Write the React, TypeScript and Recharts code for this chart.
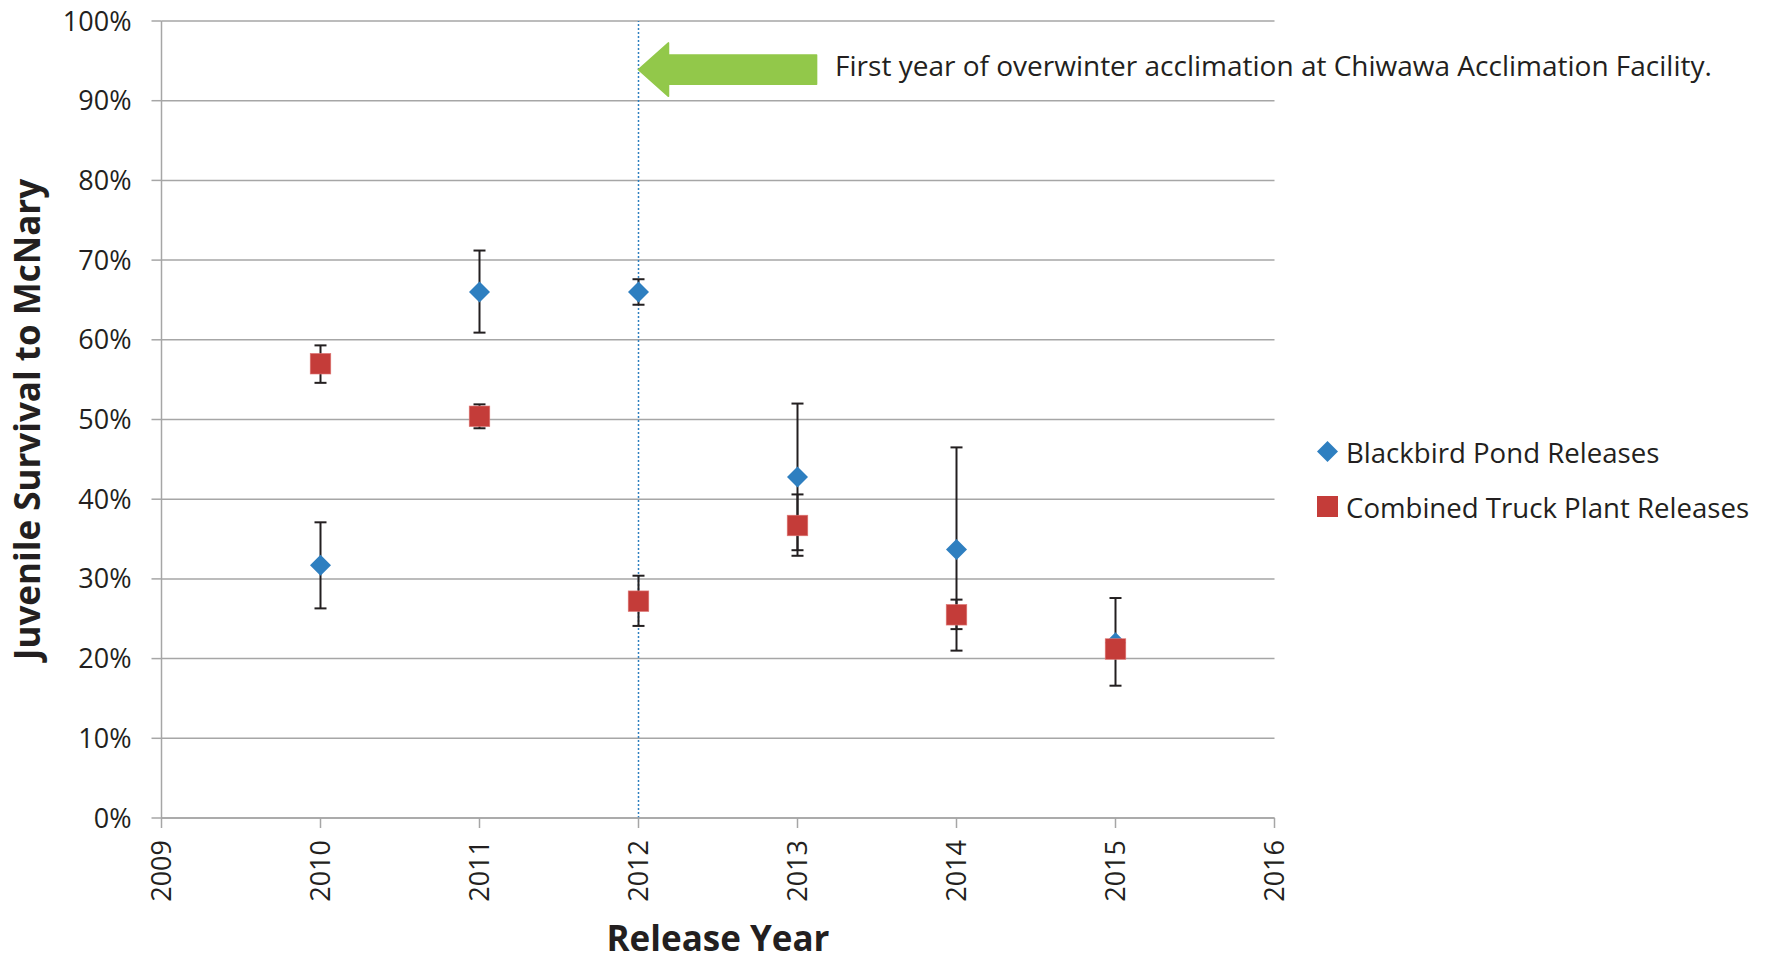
import {
  ScatterChart, Scatter, XAxis, YAxis, CartesianGrid, ErrorBar,
  ReferenceLine, Legend,
} from 'recharts'

const YEARS = [2010, 2011, 2012, 2013, 2014, 2015]

const BLACKBIRD = [31.7, 66.0, 66.0, 42.8, 33.7, 22.0]
const BLACKBIRD_LOW = [26.3, 60.9, 64.4, 33.6, 21.0, 16.6]
const BLACKBIRD_HIGH = [37.1, 71.2, 67.6, 52.0, 46.5, 27.6]

const TRUCK = [57.0, 50.4, 27.2, 36.7, 25.5, 21.2]
const TRUCK_LOW = [54.6, 48.9, 24.1, 32.9, 23.7, 20.6]
const TRUCK_HIGH = [59.3, 51.9, 30.4, 40.6, 27.4, 21.8]

const X_TICKS = [2009, 2010, 2011, 2012, 2013, 2014, 2015, 2016]
const Y_TICKS = [0, 10, 20, 30, 40, 50, 60, 70, 80, 90, 100]

const SERIES_NAMES = ['Blackbird Pond Releases', 'Combined Truck Plant Releases']

// annotation: arrow from the 2012 line, text to its right
const MARKER_YEAR = 2012
const ARROW_Y = 93.9
const ARROW_END = 2013.12
const NOTE = 'First year of overwinter acclimation at Chiwawa Acclimation Facility.'

const FONT = '"Open Sans", sans-serif'
const TEXT = '#231F20'
const GRID = '#A6A6A6'
const BLUE = '#2E7FC0'
const RED = '#C43C39'
const GREEN = '#92C84A'

function rows(vals: number[], low: number[], high: number[]) {
  return YEARS.map((yr, i) => ({
    x: yr,
    y: vals[i],
    err: [vals[i] - low[i], high[i] - vals[i]],
  }))
}

const blackbirdData = rows(BLACKBIRD, BLACKBIRD_LOW, BLACKBIRD_HIGH)
const truckData = rows(TRUCK, TRUCK_LOW, TRUCK_HIGH)

function Diamond({ cx, cy }: { cx?: number; cy?: number }) {
  if (cx == null || cy == null) return null
  const r = 10.5
  return <polygon points={`${cx},${cy - r} ${cx + r},${cy} ${cx},${cy + r} ${cx - r},${cy}`} fill={BLUE} />
}

function Square({ cx, cy }: { cx?: number; cy?: number }) {
  if (cx == null || cy == null) return null
  const r = 10.3
  return <rect x={cx - r} y={cy - r} width={r * 2} height={r * 2} fill={RED} stroke="#E07A78" strokeWidth={0.6} />
}

interface TickProps { x?: number; y?: number; payload?: { value: number } }
function YearTick({ x = 0, y = 0, payload }: TickProps) {
  return (
    <text
      x={x}
      y={y}
      transform={`rotate(-90, ${x}, ${y})`}
      textAnchor="end"
      dy="0.35em"
      fontFamily={FONT}
      fontSize={27}
      fill={TEXT}
    >
      {payload?.value}
    </text>
  )
}

function Arrow(props: any) {
  const { x1, y1, x2 } = props
  const head = 30
  const headH = 26.7
  const shaftH = 14.7
  const pts = [
    [x1, y1],
    [x1 + head, y1 - headH],
    [x1 + head, y1 - shaftH],
    [x2, y1 - shaftH],
    [x2, y1 + shaftH],
    [x1 + head, y1 + shaftH],
    [x1 + head, y1 + headH],
  ].map((p) => p.join(',')).join(' ')
  return (
    <g>
      <polygon points={pts} fill={GREEN} stroke={GREEN} strokeWidth={1.5} strokeLinejoin="round" />
      <text x={x2 + 18.5} y={y1 + 6} fontFamily={FONT} fontSize={28} fill={TEXT}>{NOTE}</text>
    </g>
  )
}

function LegendBox() {
  return (
    <div style={{ fontFamily: FONT, fontSize: 27.6, color: TEXT }}>
      {SERIES_NAMES.map((name, i) => (
        <div key={name} style={{ display: 'flex', alignItems: 'center', height: 55, whiteSpace: 'nowrap' }}>
          <svg width={21} height={21} style={{ marginRight: 8, flex: 'none' }}>
            {i === 0
              ? <polygon points="10.5,0 21,10.5 10.5,21 0,10.5" fill={BLUE} />
              : <rect x={0} y={0} width={21} height={21} fill={RED} />}
          </svg>
          <span>{name}</span>
        </div>
      ))}
    </div>
  )
}

export default function App() {
  return (
    <div>
      <style>{'body { margin: 0; }'}</style>
      <ScatterChart
        width={1769}
        height={963}
        margin={{ top: 21, right: 494.5, bottom: 0, left: 0 }}
      >
        <CartesianGrid horizontal vertical={false} stroke={GRID} strokeWidth={1.5} />
        <XAxis
          type="number"
          dataKey="x"
          domain={[2009, 2016]}
          ticks={X_TICKS}
          interval={0}
          height={145}
          tickSize={10}
          tickMargin={12}
          tick={<YearTick />}
          axisLine={{ stroke: GRID, strokeWidth: 1.5 }}
          tickLine={{ stroke: GRID, strokeWidth: 1.5 }}
          label={{
            content: ({ viewBox }: any) => (
              <text
                x={viewBox.x + viewBox.width / 2}
                y={viewBox.y + 133}
                textAnchor="middle"
                fontFamily={FONT}
                fontWeight="bold"
                fontSize={35}
                fill={TEXT}
              >
                Release Year
              </text>
            ),
          }}
        />
        <YAxis
          type="number"
          dataKey="y"
          domain={[0, 100]}
          ticks={Y_TICKS}
          interval={0}
          width={161.5}
          tickSize={10}
          tickMargin={20}
          tickFormatter={(v: number) => `${v}%`}
          tick={{ fontFamily: FONT, fontSize: 27, fill: TEXT }}
          axisLine={{ stroke: GRID, strokeWidth: 1.5 }}
          tickLine={{ stroke: GRID, strokeWidth: 1.5 }}
          label={{
            content: ({ viewBox }: any) => {
              const cx = viewBox.x + 28
              const cy = viewBox.y + viewBox.height / 2
              return (
                <text
                  x={cx}
                  y={cy}
                  transform={`rotate(-90, ${cx}, ${cy})`}
                  textAnchor="middle"
                  dy="0.35em"
                  fontFamily={FONT}
                  fontWeight="bold"
                  fontSize={35}
                  fill={TEXT}
                >
                  Juvenile Survival to McNary
                </text>
              )
            },
          }}
        />
        <ReferenceLine x={MARKER_YEAR} stroke={BLUE} strokeWidth={1.5} strokeDasharray="2 2" />
        <ReferenceLine
          segment={[{ x: MARKER_YEAR, y: ARROW_Y }, { x: ARROW_END, y: ARROW_Y }]}
          shape={Arrow}
        />
        <Scatter name={SERIES_NAMES[0]} data={blackbirdData} shape={<Diamond />} isAnimationActive={false}>
          <ErrorBar dataKey="err" direction="y" width={6} stroke={TEXT} strokeWidth={2} isAnimationActive={false} />
        </Scatter>
        <Scatter name={SERIES_NAMES[1]} data={truckData} shape={<Square />} isAnimationActive={false}>
          <ErrorBar dataKey="err" direction="y" width={6} stroke={TEXT} strokeWidth={2} isAnimationActive={false} />
        </Scatter>
        <Legend
          layout="vertical"
          align="center"
          verticalAlign="middle"
          content={<LegendBox />}
          wrapperStyle={{ left: 1317, top: 424, width: 452 }}
        />
      </ScatterChart>
    </div>
  )
}
